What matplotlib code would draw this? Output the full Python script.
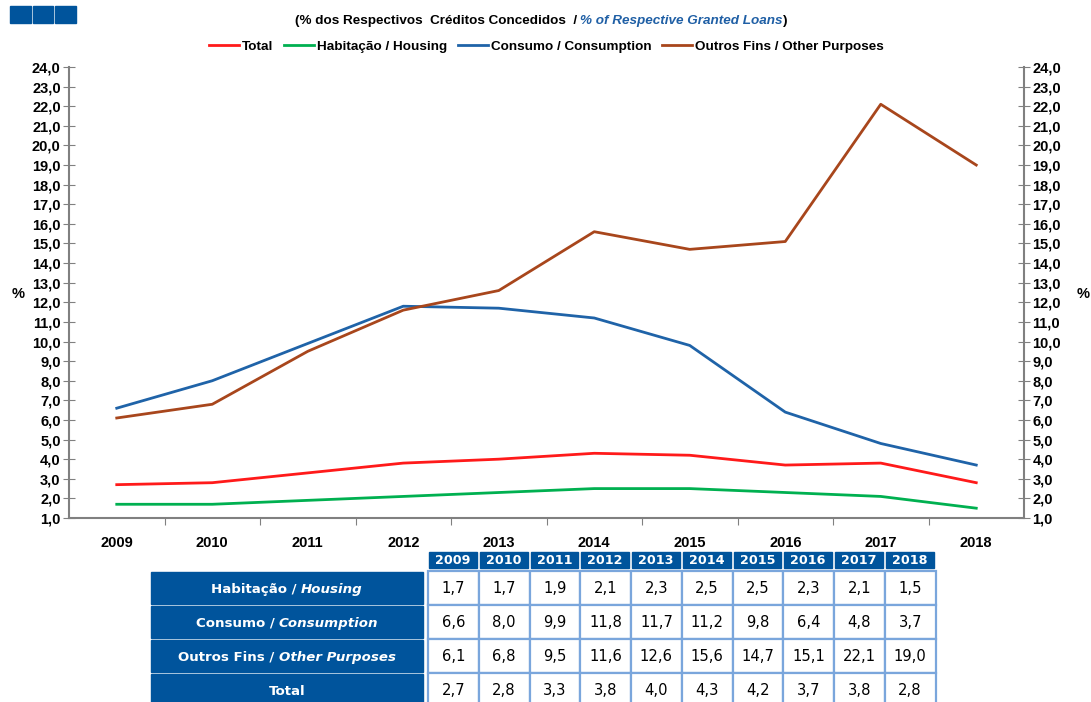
import matplotlib
matplotlib.use("Agg")
import matplotlib.pyplot as plt
from matplotlib.patches import Rectangle
from matplotlib.ticker import MultipleLocator, FuncFormatter

plt.rcParams['font.family'] = ['Liberation Sans', 'DejaVu Sans']

years = ['2009', '2010', '2011', '2012', '2013', '2014', '2015', '2016', '2017', '2018']
total = [2.7, 2.8, 3.3, 3.8, 4.0, 4.3, 4.2, 3.7, 3.8, 2.8]
habitacao = [1.7, 1.7, 1.9, 2.1, 2.3, 2.5, 2.5, 2.3, 2.1, 1.5]
consumo = [6.6, 8.0, 9.9, 11.8, 11.7, 11.2, 9.8, 6.4, 4.8, 3.7]
outros = [6.1, 6.8, 9.5, 11.6, 12.6, 15.6, 14.7, 15.1, 22.1, 19.0]

series_labels = ['Total', 'Habitação / Housing', 'Consumo / Consumption', 'Outros Fins / Other Purposes']
series_colors = ['#ff1a1a', '#00b050', '#1f63a8', '#a8461c']

row_pt = ['Habitação / ', 'Consumo / ', 'Outros Fins / ', 'Total']
row_en = ['Housing', 'Consumption', 'Other Purposes', '']
row_data = [habitacao, consumo, outros, total]

W, H = 1091, 702
fig = plt.figure(figsize=(W / 100, H / 100), dpi=100)
renderer = fig.canvas.get_renderer()

bg = fig.add_axes([0, 0, 1, 1])
bg.set_xlim(0, W)
bg.set_ylim(H, 0)
bg.axis('off')


def runs_centered(cx, y, runs):
    """runs: list of (text, kwargs); placed left to right, group centred at cx (pixel coords)."""
    objs = []
    widths = []
    for s, kw in runs:
        t = bg.text(0, y, s, ha='left', va='baseline', **kw)
        bb = t.get_window_extent(renderer=renderer)
        objs.append(t)
        widths.append(bb.width)
    x = cx - sum(widths) / 2
    for t, w in zip(objs, widths):
        t.set_x(x)
        x += w


navy = '#00549c'
for i in range(3):
    bg.add_patch(Rectangle((10 + i * 22.5, 6), 20.5, 17, color=navy))

# title
runs_centered(541, 24, [
    ('(% dos Respectivos  Créditos Concedidos  / ', dict(fontsize=9.7, fontweight='bold', color='black')),
    ('% of Respective Granted Loans', dict(fontsize=9.7, fontweight='bold', style='italic', color='#1f5fa5')),
    (')', dict(fontsize=9.7, fontweight='bold', color='black')),
])

# main chart
ax = fig.add_axes([69 / W, 1 - 518 / H, (1024 - 69) / W, (518 - 67) / H])
x = list(range(len(years)))
for vals, lab, col in zip([total, habitacao, consumo, outros], series_labels, series_colors):
    ax.plot(x, vals, color=col, lw=2, label=lab)

ax.set_xlim(-0.5, len(years) - 0.5)
ax.set_ylim(1, 24)
ax.yaxis.set_major_locator(MultipleLocator(1))
fmt = FuncFormatter(lambda v, p: f'{v:.1f}'.replace('.', ','))
ax.yaxis.set_major_formatter(fmt)
ax.set_xticks([i + 0.5 for i in range(len(years) - 1)])
ax.set_xticklabels([])
ax.set_xticks(x, minor=True)
ax.set_xticklabels(years, minor=True)
ax.tick_params(axis='x', which='minor', length=0, pad=13, labelsize=10.5)
ax.tick_params(axis='x', which='major', length=5, direction='out', color='#808080')
ax.tick_params(axis='y', length=8, direction='inout', color='#808080', labelsize=10.5, pad=2)
for lbl in ax.get_xticklabels(minor=True) + ax.get_yticklabels():
    lbl.set_fontweight('bold')
for s in ['top', 'right']:
    ax.spines[s].set_visible(False)
for s in ['left', 'bottom']:
    ax.spines[s].set_color('#808080')
    ax.spines[s].set_linewidth(1.5)

ax2 = ax.twinx()
ax2.set_ylim(1, 24)
ax2.yaxis.set_major_locator(MultipleLocator(1))
ax2.yaxis.set_major_formatter(fmt)
ax2.tick_params(axis='y', length=8, direction='inout', color='#808080', labelsize=10.5, pad=2)
for lbl in ax2.get_yticklabels():
    lbl.set_fontweight('bold')
for s in ['top', 'left', 'bottom']:
    ax2.spines[s].set_visible(False)
ax2.spines['right'].set_color('#808080')
ax2.spines['right'].set_linewidth(1.5)

bg.text(18, 294, '%', ha='center', va='center', fontweight='bold', fontsize=10.5)
bg.text(1083, 294, '%', ha='center', va='center', fontweight='bold', fontsize=10.5)

ax.legend(loc='center', bbox_to_anchor=(0.5, 1 + (67 - 47) / (518 - 67)), ncol=4, frameon=False,
          handlelength=2.2, handletextpad=0.25, columnspacing=0.8,
          prop={'weight': 'bold', 'size': 9.7})

# table
col_x0 = 428.0
col_w = 50.75
hdr_top, hdr_bot = 552, 568
row_tops = [572, 606, 640, 674]
row_h = 33
lab_x0, lab_x1 = 151, 423
grid_col = '#7aa6dc'
tfont = 'DejaVu Sans'

for j, yr in enumerate(years):
    cx = col_x0 + j * col_w
    bg.add_patch(Rectangle((cx + 1, hdr_top), col_w - 3, hdr_bot - hdr_top, color=navy))
    bg.text(cx + col_w / 2 - 0.5, (hdr_top + hdr_bot) / 2 + 0.5, yr, ha='center', va='center',
            color='white', fontweight='bold', fontsize=9.2, family=tfont)

for i in range(len(row_pt)):
    top = row_tops[i]
    bot = min(top + row_h, H + 5)
    bg.add_patch(Rectangle((lab_x0, top), lab_x1 - lab_x0, bot - top - 1, color=navy))
    base = top + 21
    runs = [(row_pt[i], dict(color='white', fontweight='bold', fontsize=9.6, family=tfont))]
    if row_en[i]:
        runs.append((row_en[i], dict(color='white', fontweight='bold', style='italic',
                                     fontsize=9.6, family=tfont)))
    runs_centered((lab_x0 + lab_x1) / 2, base, runs)
    for j, v in enumerate(row_data[i]):
        cx = col_x0 + j * col_w
        bg.add_patch(Rectangle((cx, top - 1), col_w, row_h + 1, facecolor='white',
                               edgecolor=grid_col, lw=1.6))
        bg.text(cx + col_w / 2, base, f'{v:.1f}'.replace('.', ','), ha='center', va='baseline',
                color='black', fontsize=10.6, family=tfont)

fig.savefig('out.png', dpi=100)
